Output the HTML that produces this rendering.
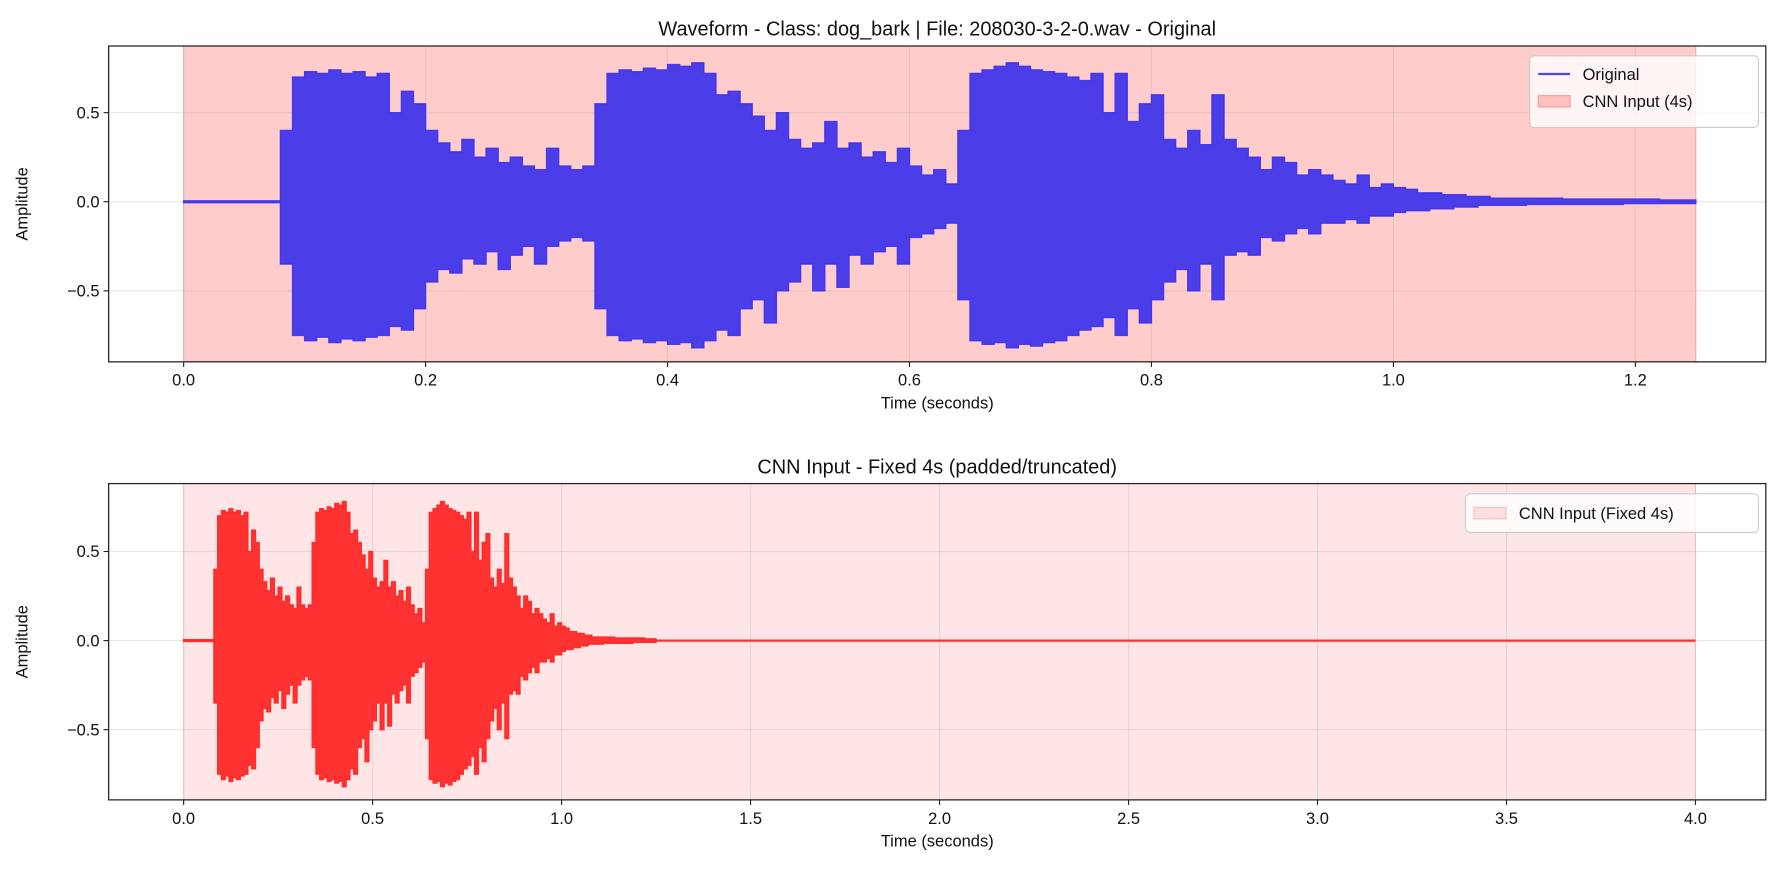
<!DOCTYPE html>
<html><head><meta charset="utf-8"><style>
html,body{margin:0;padding:0;background:#fff;}
svg{display:block;font-family:"Liberation Sans","DejaVu Sans",sans-serif;}
</style></head>
<body>
<svg id="chart" width="1784" height="880" viewBox="0 0 1568 773.4" xmlns="http://www.w3.org/2000/svg"></svg>
<script>
// ---- data (envelope sampled every 0.01 s, t = 0.00 .. 1.25) ----
const sampleStep = 0.01;
const upperEnv = [0.005,0.005,0.005,0.005,0.005,0.005,0.005,0.005,
0.4,0.7,0.73,0.72,0.74,0.72,0.73,0.7,0.72,0.5,0.62,0.55,0.4,0.33,0.28,0.35,0.25,0.3,0.22,0.25,0.2,0.18,0.3,0.2,0.18,0.2,
0.55,0.72,0.74,0.73,0.75,0.74,0.77,0.76,0.78,0.72,0.6,0.62,0.55,0.48,0.4,0.5,0.35,0.3,0.33,0.45,0.3,0.33,0.25,0.28,0.22,0.3,0.2,0.15,0.18,0.1,
0.4,0.72,0.74,0.76,0.78,0.76,0.74,0.73,0.72,0.7,0.68,0.72,0.5,0.72,0.45,0.55,0.6,0.35,0.3,0.4,0.32,0.6,0.35,0.3,0.25,0.18,0.25,0.22,0.15,0.18,0.15,0.12,0.1,0.15,0.08,0.1,
0.08,0.07,0.05,0.05,0.04,0.04,0.03,0.03,0.02,
0.02,0.02,0.02,0.02,0.02,0.015,0.015,0.015,0.015,0.015,0.015,0.015,0.015,0.01,0.01,0.01,0.01];
const lowerEnv = [-0.005,-0.005,-0.005,-0.005,-0.005,-0.005,-0.005,-0.005,
-0.35,-0.75,-0.78,-0.76,-0.79,-0.77,-0.78,-0.76,-0.75,-0.7,-0.72,-0.6,-0.45,-0.38,-0.4,-0.32,-0.35,-0.28,-0.38,-0.3,-0.25,-0.35,-0.25,-0.22,-0.2,-0.22,
-0.6,-0.75,-0.78,-0.77,-0.79,-0.78,-0.8,-0.79,-0.82,-0.78,-0.72,-0.75,-0.6,-0.55,-0.68,-0.5,-0.45,-0.35,-0.5,-0.35,-0.48,-0.3,-0.35,-0.28,-0.25,-0.35,-0.2,-0.18,-0.15,-0.12,
-0.55,-0.78,-0.8,-0.79,-0.82,-0.8,-0.81,-0.79,-0.78,-0.75,-0.72,-0.7,-0.65,-0.75,-0.6,-0.68,-0.55,-0.45,-0.38,-0.5,-0.35,-0.55,-0.3,-0.28,-0.3,-0.2,-0.22,-0.18,-0.15,-0.18,-0.12,-0.12,-0.1,-0.12,-0.08,-0.08,
-0.06,-0.05,-0.05,-0.04,-0.04,-0.03,-0.03,-0.02,-0.02,
-0.02,-0.02,-0.015,-0.015,-0.015,-0.015,-0.015,-0.015,-0.015,-0.015,-0.01,-0.01,-0.01,-0.01,-0.01,-0.01,-0.01];
const topXTicks = [0.0,0.2,0.4,0.6,0.8,1.0,1.2];
const topXLabels = ["0.0","0.2","0.4","0.6","0.8","1.0","1.2"];
const botXTicks = [0,0.5,1,1.5,2,2.5,3,3.5,4];
const botXLabels = ["0.0","0.5","1.0","1.5","2.0","2.5","3.0","3.5","4.0"];
const yTicks = [-0.5,0,0.5];
const yLabels = ["\u22120.5","0.0","0.5"];
const origDuration = 1.25;
const cnnDuration = 4.0;

const NS = "http://www.w3.org/2000/svg";
const svg = document.getElementById('chart');
function mk(tag, attrs, parent, name, text){
  const e = document.createElementNS(NS, tag);
  for (const k in attrs) e.setAttribute(k, attrs[k]);
  
  
  if (text !== undefined) e.textContent = text;
  (parent || svg).appendChild(e);
  return e;
}

function drawPanel(cfg){
  const L = cfg.left, R = cfg.right, T = cfg.top, B = cfg.bottom;
  const xs = v => cfg.x0 + v * cfg.pxPerX;
  const ys = v => cfg.y0 - v * cfg.pxPerY;
  const g = mk('g', {}, svg, cfg.name);
  mk('rect', {x: xs(0), y: T, width: xs(cfg.spanEnd) - xs(0), height: B - T, fill: cfg.spanFill, stroke: cfg.spanStroke, 'stroke-width': 1}, g, 'cnn-input-span');
  cfg.xTicks.forEach(t => {
    mk('line', {x1: xs(t), x2: xs(t), y1: T, y2: B, stroke: 'rgba(176,176,176,0.3)', 'stroke-width': 1}, g, 'x-gridline');
  });
  yTicks.forEach(t => {
    mk('line', {x1: L, x2: R, y1: ys(t), y2: ys(t), stroke: 'rgba(176,176,176,0.3)', 'stroke-width': 1}, g, 'y-gridline');
  });
  // waveform (step-held envelope)
  const n = upperEnv.length;
  const st = sampleStep;
  const endT = (n - 1) * st;
  let pts = [];
  for (let i = 0; i < n; i++) {
    const t1 = i * st, t2 = Math.min((i + 1) * st, endT);
    pts.push(xs(t1).toFixed(2) + ',' + ys(upperEnv[i]).toFixed(2));
    pts.push(xs(t2).toFixed(2) + ',' + ys(upperEnv[i]).toFixed(2));
  }
  for (let i = n - 1; i >= 0; i--) {
    const t1 = i * st, t2 = Math.min((i + 1) * st, endT);
    pts.push(xs(t2).toFixed(2) + ',' + ys(lowerEnv[i]).toFixed(2));
    pts.push(xs(t1).toFixed(2) + ',' + ys(lowerEnv[i]).toFixed(2));
  }
  mk('polygon', {points: pts.join(' '), fill: cfg.waveFill, stroke: cfg.waveFill, 'stroke-width': 1.2, 'stroke-linejoin': 'miter'}, g, 'waveform-series');
  if (cfg.spanEnd > endT) {
    mk('line', {x1: xs(endT), x2: xs(cfg.spanEnd), y1: ys(0), y2: ys(0), stroke: cfg.waveFill, 'stroke-width': 2}, g, 'zero-padding-line');
  }
  mk('rect', {x: L, y: T, width: R - L, height: B - T, fill: 'none', stroke: '#222', 'stroke-width': 1.1}, g, 'axes-frame');
  cfg.xTicks.forEach((t, i) => {
    mk('line', {x1: xs(t), x2: xs(t), y1: B, y2: B + 4.5, stroke: '#222', 'stroke-width': 1}, g, 'x-tick');
    mk('text', {x: xs(t), y: B + 21, 'font-size': 14.5, 'text-anchor': 'middle', fill: '#111'}, g, 'x-tick-label', cfg.xLabels[i]);
  });
  yTicks.forEach((t, i) => {
    mk('line', {x1: L - 4.5, x2: L, y1: ys(t), y2: ys(t), stroke: '#222', 'stroke-width': 1}, g, 'y-tick');
    mk('text', {x: L - 8, y: ys(t) + 5, 'font-size': 14.5, 'text-anchor': 'end', fill: '#111'}, g, 'y-tick-label', yLabels[i]);
  });
  mk('text', {x: (L + R) / 2, y: B + 41, 'font-size': 14.5, 'text-anchor': 'middle', fill: '#111'}, g, 'x-axis-title', 'Time (seconds)');
  mk('text', {x: 24, y: (T + B) / 2, 'font-size': 14.5, 'text-anchor': 'middle', fill: '#111', transform: 'rotate(-90 24 ' + ((T + B) / 2) + ')'}, g, 'y-axis-title', 'Amplitude');
  mk('text', {x: (L + R) / 2, y: T - 9, 'font-size': 17.5, 'text-anchor': 'middle', fill: '#111'}, g, 'chart-title', cfg.title);
  return g;
}

drawPanel({name: 'original-waveform-panel', left: 95.5, right: 1552, top: 40.4, bottom: 318,
  x0: 161.4, pxPerX: 1063.3, y0: 177.3, pxPerY: 156.6, spanEnd: origDuration,
  spanFill: '#ffcccc', spanStroke: 'rgba(230,120,120,0.5)', waveFill: 'rgba(60,50,236,0.92)',
  xTicks: topXTicks, xLabels: topXLabels, title: 'Waveform - Class: dog_bark | File: 208030-3-2-0.wav - Original'});
drawPanel({name: 'cnn-input-panel', left: 95.5, right: 1552, top: 425, bottom: 703,
  x0: 161.4, pxPerX: 332.2, y0: 563, pxPerY: 156.6, spanEnd: cnnDuration,
  spanFill: '#ffe5e5', spanStroke: 'rgba(240,170,170,0.5)', waveFill: 'rgba(255,40,40,0.95)',
  xTicks: botXTicks, xLabels: botXLabels, title: 'CNN Input - Fixed 4s (padded/truncated)'});

const lg1 = mk('g', {}, svg, 'legend-original');
mk('rect', {x: 1344.5, y: 49, width: 201, height: 63, rx: 4, fill: 'rgba(255,255,255,0.8)', stroke: '#ccc', 'stroke-width': 1}, lg1, 'legend-box');
mk('line', {x1: 1352, x2: 1380, y1: 65, y2: 65, stroke: 'rgba(60,50,236,0.9)', 'stroke-width': 2}, lg1, 'legend-swatch-original');
mk('text', {x: 1391, y: 70.5, 'font-size': 14.5, fill: '#111'}, lg1, 'legend-entry-original', 'Original');
mk('rect', {x: 1352, y: 84, width: 28, height: 10, fill: '#ffc0c0', stroke: 'rgba(240,140,140,0.8)', 'stroke-width': 1}, lg1, 'legend-swatch-cnn-input');
mk('text', {x: 1391, y: 94, 'font-size': 14.5, fill: '#111'}, lg1, 'legend-entry-cnn-input', 'CNN Input (4s)');

const lg2 = mk('g', {}, svg, 'legend-cnn-input');
mk('rect', {x: 1288, y: 434, width: 257.5, height: 34, rx: 4, fill: 'rgba(255,255,255,0.8)', stroke: '#ccc', 'stroke-width': 1}, lg2, 'legend-box');
mk('rect', {x: 1295.5, y: 446, width: 28, height: 10, fill: '#ffdede', stroke: 'rgba(245,180,180,0.8)', 'stroke-width': 1}, lg2, 'legend-swatch-fixed');
mk('text', {x: 1335, y: 456, 'font-size': 14.5, fill: '#111'}, lg2, 'legend-entry-fixed', 'CNN Input (Fixed 4s)');
</script>
</body></html>
